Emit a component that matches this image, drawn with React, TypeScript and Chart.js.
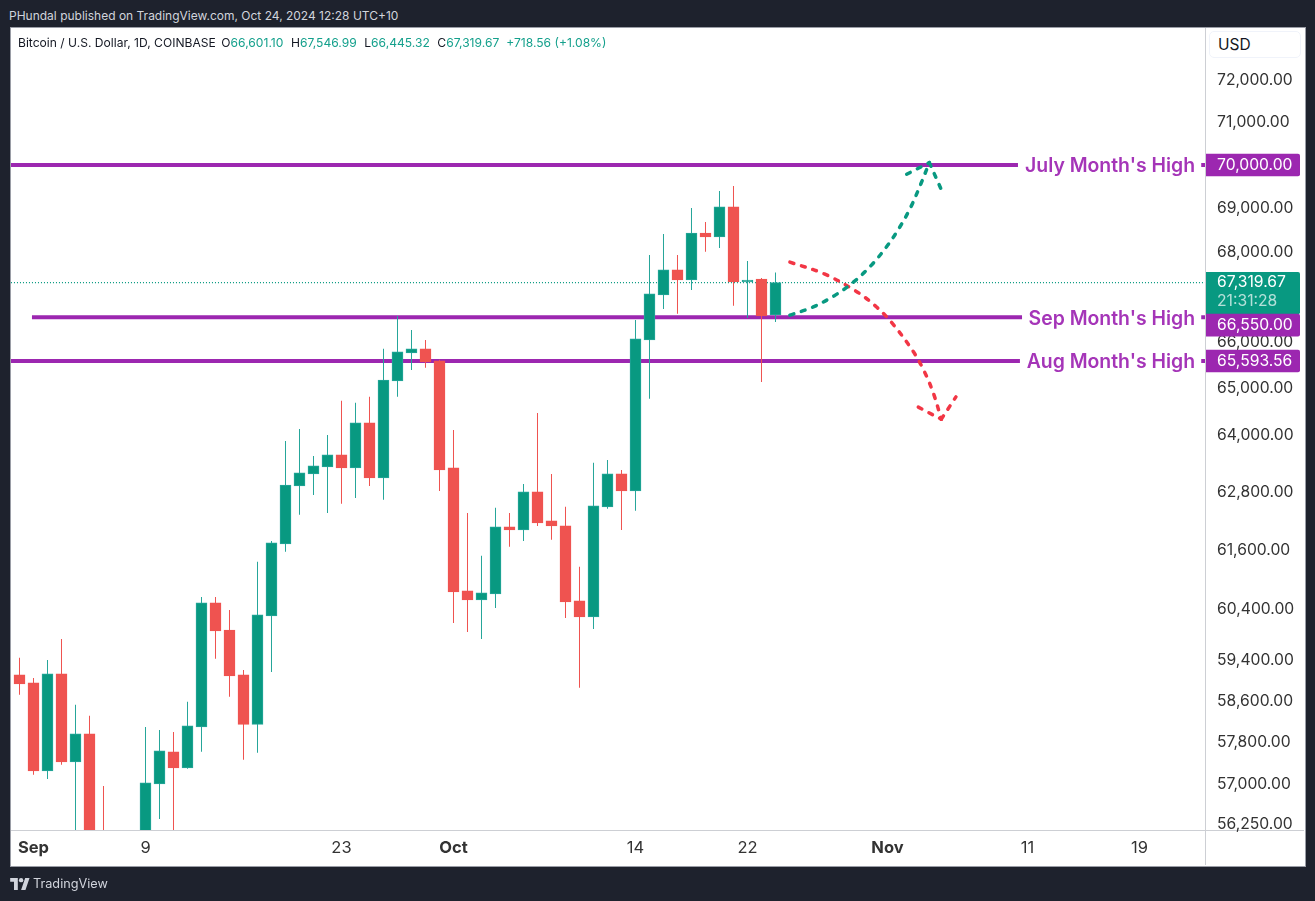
import React, { useEffect, useRef } from "react";
import { Chart, registerables } from "chart.js";

Chart.register(...registerables);

// One candle per day, first candle is Aug 31 2024, last is Oct 24 2024
const opens = [59108, 58951, 57256, 59127, 57427, 57962, 56050, 53950, 54160, 54880, 57009, 57618, 57313, 58096, 60537, 59995, 59108, 58145, 60276, 61733, 62931, 63182, 63330, 63583, 63309, 64260, 63097, 65161, 65771, 65858, 65596, 63309, 60777, 60597, 60717, 62081, 62019, 62806, 62205, 62102, 60577, 60256, 62496, 63182, 62827, 66054, 67048, 67605, 67380, 68438, 68348, 69033, 67336, 67402, 66601.1];
const highs = [59443, 59048, 59403, 59817, 58524, 58310, 56971, 54850, 55300, 58096, 58038, 58000, 58582, 60657, 60657, 60396, 59206, 61366, 61794, 63878, 64131, 63561, 64005, 64732, 64689, 64818, 65858, 66582, 66272, 66054, 65618, 64110, 62371, 61489, 62475, 62371, 62972, 64474, 63182, 62496, 61264, 63414, 63477, 63266, 66494, 67943, 68416, 67943, 69010, 68689, 69399, 69514, 67808, 67425, 67546.99];
const lows = [58718, 57180, 57103, 57370, 55960, 55600, 52550, 53750, 53650, 54600, 56351, 56050, 57294, 57618, 59423, 58679, 57466, 57599, 59167, 61570, 62330, 62744, 62371, 62558, 62682, 62931, 62641, 64818, 65400, 65444, 62827, 60135, 59956, 59818, 60436, 61672, 61794, 62102, 61815, 60236, 58854, 60015, 62454, 62019, 62413, 64775, 66737, 66627, 67158, 68011, 68101, 66804, 66538, 65139, 66445.32];
const closes = [58931, 57256, 59127, 57427, 57962, 56050, 53950, 54160, 54880, 57028, 57637, 57313, 58116, 60537, 59975, 59088, 58145, 60296, 61754, 62951, 63203, 63351, 63583, 63309, 64260, 63097, 65182, 65792, 65858, 65574, 63266, 60757, 60597, 60737, 62081, 62019, 62806, 62164, 62102, 60557, 60256, 62516, 63182, 62827, 66076, 67070, 67605, 67380, 68438, 68348, 69033, 67336, 67380, 66582, 67319.67];

const priceTicks = [72000, 71000, 70000, 69000, 68000, 66000, 65000, 64000, 62800, 61600, 60400, 59400, 58600, 57800, 57000, 56250];
const dateTickIndex = [1, 9, 23, 31, 44, 52, 62, 72, 80];
const dateTickLabels = ["Sep", "9", "23", "Oct", "14", "22", "Nov", "11", "19"];

const levelPrices = [70000, 66550, 65593.56];
const levelNames = ["July Month's High", "Sep Month's High", "Aug Month's High"];
const levelStarts = [-0.61, 0.89, -0.61];
const levelEnds = [71.32, 71.61, 71.46];
const levelStubStart = 84.41;
const lastPrice = 67319.67;
const countdown = "21:31:28";

const greenPathX = [55.03, 56.66, 58.18, 59.56, 60.82, 61.91, 62.87, 63.68, 64.37, 64.99];
const greenPathY = [66598, 66775, 67025, 67329, 67702, 68116, 68568, 69040, 69553, 70054];
const greenHeadLeftX = [63.37, 64.99];
const greenHeadLeftY = [69784, 70054];
const greenHeadRightX = [64.99, 65.8];
const greenHeadRightY = [70054, 69461];
const redPathX = [55.03, 57.49, 59.75, 61.13, 62.32, 63.84, 64.68, 65.32, 65.84];
const redPathY = [67779, 67515, 67130, 66804, 66427, 65799, 65335, 64860, 64339];
const redHeadLeftX = [64.2, 65.84];
const redHeadLeftY = [64597, 64339];
const redHeadRightX = [65.84, 66.89];
const redHeadRightY = [64339, 64818];

const FONT = "Inter, 'Liberation Sans', sans-serif";
const UP = "#089981";
const UP_EDGE = "#26a69a";
const DOWN = "#ef5350";
const PURPLE = "#9c27b0";
const AXIS = "#cdcfd4";

const fmt = (v: number) =>
  v.toLocaleString("en-US", { minimumFractionDigits: 2, maximumFractionDigits: 2 });

const overlay = {
  id: "overlay",
  afterDraw(chart: any) {
    const { ctx, scales } = chart;
    const y = scales.y;
    ctx.save();
    const TAG_X = 1206;
    const TAG_W = 94;
    const TEXT_X = 1217;
    ctx.textBaseline = "middle";
    ctx.textAlign = "left";
    // last price tag
    const lp = y.getPixelForValue(lastPrice);
    ctx.fillStyle = UP;
    ctx.beginPath();
    ctx.roundRect(TAG_X, lp - 10.6, TAG_W, 42.3, [0, 2, 2, 0]);
    ctx.fill();
    ctx.font = `15.7px ${FONT}`;
    ctx.fillStyle = "#ffffff";
    ctx.fillText(fmt(lastPrice), TEXT_X, lp);
    ctx.fillStyle = "#b5e0d9";
    ctx.fillText(countdown, TEXT_X, lp + 19);
    // level tags and their names
    levelPrices.forEach((p, i) => {
      const py = y.getPixelForValue(p);
      const shift = i === 1 ? 7.8 : 0;
      ctx.fillStyle = PURPLE;
      ctx.beginPath();
      ctx.roundRect(TAG_X, py + shift - 11.3, TAG_W, 22.6, [0, 2, 2, 0]);
      ctx.fill();
      ctx.font = `15.7px ${FONT}`;
      ctx.fillStyle = "#ffffff";
      ctx.textAlign = "left";
      ctx.fillText(fmt(p), TEXT_X, py + shift);
      ctx.font = `600 19.4px ${FONT}`;
      ctx.fillStyle = "#a535b8";
      ctx.textAlign = "right";
      ctx.fillText(levelNames[i], 1195, py + 1.5);
    });
    ctx.restore();
  },
};

export default function App() {
  const ref = useRef<HTMLCanvasElement>(null);

  useEffect(() => {
    const idx = opens.map((_, i) => i);
    const isUp = (i: number) => closes[i] >= opens[i];
    const lineBase = { type: "line", pointRadius: 0, fill: false, parsing: true };
    const dashed = (color: string, xs: number[], ys: number[], tension: number) => ({
      ...lineBase,
      data: xs.map((x, i) => ({ x, y: ys[i] })),
      borderColor: color,
      borderWidth: 3.5,
      borderDash: [4, 8],
      borderCapStyle: "round",
      tension,
      order: 0,
    });
    const levelDatasets = levelPrices.map((p, i) => ({
      ...lineBase,
      data: [
        { x: levelStarts[i], y: p },
        { x: levelEnds[i], y: p },
        { x: levelEnds[i] + 1, y: null },
        { x: levelStubStart, y: p },
        { x: 84.68, y: p },
      ],
      borderColor: PURPLE,
      borderWidth: 4,
      spanGaps: false,
      tension: 0,
      order: 4,
    }));

    const chart = new Chart(ref.current as HTMLCanvasElement, {
      type: "bar",
      data: {
        datasets: [
          {
            data: idx.map((i) => ({ x: i, y: [opens[i], closes[i]] })),
            grouped: false,
            barThickness: 11,
            backgroundColor: idx.map((i) => (isUp(i) ? UP : DOWN)),
            borderColor: idx.map((i) => (isUp(i) ? UP_EDGE : DOWN)),
            borderWidth: 1,
            borderSkipped: false,
            order: 1,
          },
          {
            data: idx.map((i) => ({ x: i, y: [lows[i], highs[i]] })),
            grouped: false,
            barThickness: 1,
            backgroundColor: idx.map((i) => (isUp(i) ? UP_EDGE : DOWN)),
            borderWidth: 0,
            inflateAmount: 0,
            order: 2,
          },
          ...levelDatasets,
          {
            ...lineBase,
            data: [
              { x: -0.61, y: lastPrice },
              { x: 84.68, y: lastPrice },
            ],
            borderColor: UP,
            borderWidth: 1.3,
            borderDash: [1, 2],
            order: 5,
          },
          dashed("#089981", greenPathX, greenPathY, 0.35),
          dashed("#089981", greenHeadLeftX, greenHeadLeftY, 0),
          dashed("#089981", greenHeadRightX, greenHeadRightY, 0),
          dashed("#f23645", redPathX, redPathY, 0.35),
          dashed("#f23645", redHeadLeftX, redHeadLeftY, 0),
          dashed("#f23645", redHeadRightX, redHeadRightY, 0),
        ] as any,
      },
      options: {
        responsive: false,
        animation: false,
        events: [],
        layout: { padding: { left: 11, top: 28, right: 10, bottom: 35 } },
        plugins: { legend: { display: false }, tooltip: { enabled: false }, title: { display: false } },
        scales: {
          x: {
            type: "linear",
            bounds: "data",
            offset: false,
            min: -0.607,
            max: 84.679,
            grid: { display: false, offset: false },
            border: { display: false },
            afterFit: (s: any) => {
              s.height = 36;
            },
            afterBuildTicks: (s: any) => {
              s.ticks = dateTickIndex.map((value) => ({ value }));
            },
            ticks: {
              autoSkip: false,
              maxRotation: 0,
              padding: 0,
              color: "#333333",
              callback: (v: any) => dateTickLabels[dateTickIndex.indexOf(Number(v))] ?? "",
              font: (c: any) => ({
                family: FONT,
                size: 16.5,
                weight: c.tick && isNaN(Number(c.tick.label)) ? "bold" : "normal",
              }),
            },
          },
          y: {
            type: "logarithmic",
            position: "right",
            bounds: "data",
            min: 56144,
            max: 73253,
            grid: { display: false },
            border: { display: false },
            afterFit: (s: any) => {
              s.width = 100;
            },
            afterBuildTicks: (s: any) => {
              s.ticks = priceTicks.map((value) => ({ value }));
            },
            ticks: {
              autoSkip: false,
              padding: 4,
              color: "#333333",
              font: { family: FONT, size: 15.7 },
              callback: (v: any) => fmt(Number(v)),
            },
          },
        },
      } as any,
      plugins: [overlay],
    });
    return () => chart.destroy();
  }, []);

  const abs = (s: React.CSSProperties): React.CSSProperties => ({ position: "absolute", ...s });
  const val: React.CSSProperties = { color: "#14a08c" };
  return (
    <div style={abs({ left: 0, top: 0, width: 1315, height: 901, background: "#1e222d", overflow: "hidden", fontFamily: FONT })}>
      <div style={abs({ left: 9, top: 8, fontSize: 12, lineHeight: "15px", color: "#d1d4dc", whiteSpace: "nowrap" })}>
        PHundal published on TradingView.com, Oct 24, 2024 12:28 UTC+10
      </div>
      <div style={abs({ left: 10, top: 27, width: 1294, height: 838, background: "#ffffff", border: "1px solid #9a9da6" })} />
      <div style={abs({ left: 1205, top: 28, width: 1, height: 837, background: AXIS })} />
      <div style={abs({ left: 11, top: 830, width: 1293, height: 1, background: AXIS })} />
      <canvas ref={ref} width={1315} height={901} style={abs({ left: 0, top: 0, width: 1315, height: 901 })} />
      <div style={abs({ left: 18, top: 35, fontSize: 12.1, lineHeight: "16px", color: "#131722", whiteSpace: "nowrap" })}>
        Bitcoin / U.S. Dollar, 1D, COINBASE
        <span style={{ marginLeft: 5.5 }}>O</span><span style={val}>66,601.10</span>
        <span style={{ marginLeft: 7.5 }}>H</span><span style={val}>67,546.99</span>
        <span style={{ marginLeft: 7.5 }}>L</span><span style={val}>66,445.32</span>
        <span style={{ marginLeft: 7.5 }}>C</span><span style={val}>67,319.67</span>
        <span style={{ ...val, marginLeft: 7 }}>+718.56 (+1.08%)</span>
      </div>
      <div style={abs({ left: 1209, top: 31, width: 90, height: 25, border: "1px solid #f0f3fa", borderRadius: 5, background: "#fff" })} />
      <div style={abs({ left: 1218, top: 35, fontSize: 15.5, lineHeight: "20px", color: "#131722" })}>USD</div>
      <svg style={abs({ left: 10, top: 878 })} width="20" height="12" viewBox="0 0 36 22">
        <path fill="#d1d4dc" d="M14 22H7V7H0V0h14v22zM28 22h-8L27.5 0h8L28 22z" />
        <circle fill="#d1d4dc" cx="20" cy="4" r="4" />
      </svg>
      <div style={abs({ left: 33, top: 876, fontSize: 12.7, lineHeight: "16px", color: "#d1d4dc" })}>TradingView</div>
    </div>
  );
}
